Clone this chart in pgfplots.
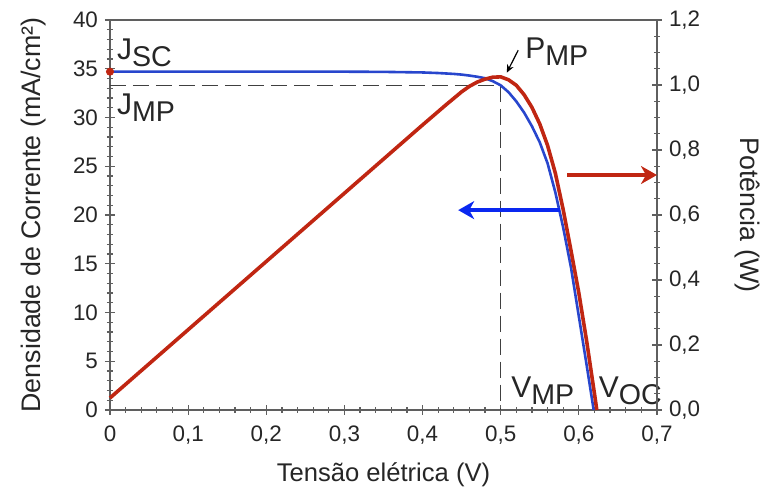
\documentclass[border=0pt]{standalone}
\usepackage{fontspec}
\setmainfont{Liberation Sans}
\usepackage{pgfplots}
\usepackage{pgfplotstable}
\pgfplotsset{compat=1.18}
\usetikzlibrary{arrows.meta}
\definecolor{jblue}{RGB}{40,70,205}
\definecolor{pred}{RGB}{192,38,18}
\definecolor{arrblue}{RGB}{10,40,240}
\definecolor{axgray}{RGB}{95,95,95}

\pgfplotstableread{
V J
0 34.7
0.1 34.7
0.2 34.7
0.3 34.7
0.35 34.68
0.40 34.62
0.42 34.56
0.44 34.47
0.45 34.40
0.46 34.30
0.47 34.18
0.48 34.03
0.49 33.72
0.50 33.3
0.51 32.6
0.52 31.65
0.53 30.5
0.54 29.1
0.55 27.45
0.56 25.3
0.57 22.3
0.58 18.7
0.59 14.6
0.60 9.6
0.61 4.6
0.619 0
}\jvdata

\pgfplotstableread{
V P
0 0.037
0.1 0.247
0.2 0.457
0.3 0.667
0.4 0.877
0.43 0.939
0.45 0.979
0.46 0.996
0.47 1.009
0.48 1.018
0.49 1.024
0.50 1.025
0.51 1.016
0.52 0.999
0.53 0.970
0.54 0.931
0.55 0.880
0.56 0.814
0.57 0.728
0.58 0.616
0.59 0.490
0.60 0.360
0.61 0.212
0.62 0.050
0.623 0
}\pvdata

\begin{document}
\begin{tikzpicture}
\pgfplotsset{
  base/.style={
    scale only axis, width=273.5pt, height=195pt,
    xmin=0, xmax=0.7, clip=false,
    axis line style={axgray, line width=0.8pt},
    every tick/.style={axgray, line width=0.6pt},
    /pgf/number format/assume math mode=true,
    tick label style={font=\fontsize{11.2}{13}\selectfont, text=black!85},
    label style={font=\fontsize{12.8}{15}\selectfont, text=black!85},
    major tick length=5pt, minor tick length=3pt,
    tick align=center,
  }
}
\begin{axis}[base, name=main,
  ymin=0, ymax=40,
  xtick={0,0.1,0.2,0.3,0.4,0.5,0.6,0.7},
  xticklabels={0,{0,1},{0,2},{0,3},{0,4},{0,5},{0,6},{0,7}},
  ytick={0,5,10,15,20,25,30,35,40},
  minor x tick num=4, minor y tick num=4,
  xtick pos=bottom, ytick pos=left,
  xticklabel style={yshift=-2pt},
  xlabel={Tensão elétrica (V)},
  ylabel={Densidade de Corrente (mA/cm²)},
  xlabel style={at={(axis description cs:0.5,-0.165)}, anchor=center},
  ylabel style={at={(axis description cs:-0.140,0.5)}, anchor=center, font=\fontsize{13.4}{15}\selectfont},
]
\addplot[black!75, line width=0.6pt, dash pattern=on 8pt off 3.5pt] coordinates {(0,33.3) (0.5,33.3) (0.5,0)};
\addplot[jblue, line width=1.3pt, line join=round] table[x=V, y=J] {\jvdata};
\addplot[only marks, mark=*, mark size=1.8pt, pred] coordinates {(0,34.7)};
\draw[arrblue, line width=2.2pt, -{Stealth[length=8pt, width=9pt, inset=2.5pt]}] (axis cs:0.576,20.5) -- (axis cs:0.4456,20.5);
\draw[black, line width=0.6pt, -{Stealth[length=4pt, width=3.5pt]}] (axis cs:0.5224,36.9) -- (axis cs:0.5078,34.6);
\node[anchor=base west, inner sep=0pt, text=black!85] at (axis cs:0.0086,36.0) {\fontsize{15}{17}\selectfont J\raisebox{-3.5pt}{\fontsize{14.3}{16}\selectfont SC}};
\node[anchor=base west, inner sep=0pt, text=black!85] at (axis cs:0.0086,30.26) {\fontsize{15}{17}\selectfont J\raisebox{-3.5pt}{\fontsize{14.3}{16}\selectfont MP}};
\node[anchor=base west, inner sep=0pt, text=black!85] at (axis cs:0.531,36.1) {\fontsize{15}{17}\selectfont P\raisebox{-3.5pt}{\fontsize{14.3}{16}\selectfont MP}};
\node[anchor=base west, inner sep=0pt, text=black!85] at (axis cs:0.513,1.3) {\fontsize{15}{17}\selectfont V\raisebox{-3.5pt}{\fontsize{14.3}{16}\selectfont MP}};
\node[anchor=base west, inner sep=0pt, text=black!85] at (axis cs:0.625,1.3) {\fontsize{15}{17}\selectfont V\raisebox{-3.5pt}{\fontsize{14.3}{16}\selectfont OC}};
\end{axis}
\begin{axis}[base,
  ymin=0, ymax=1.2,
  axis x line=none, axis y line*=right,
  ytick={0,0.2,0.4,0.6,0.8,1.0,1.2},
  minor y tick num=3,
  yticklabel style={/pgf/number format/.cd, fixed, fixed zerofill, precision=1, use comma},
  ylabel={Potência (W)},
  ylabel style={at={(axis description cs:1.166,0.5)}, anchor=center, rotate=180, font=\fontsize{13.4}{15}\selectfont},
]
\addplot[pred, line width=1.8pt, line join=round] table[x=V, y=P] {\pvdata};
\draw[pred, line width=2.2pt, -{Stealth[length=8pt, width=9pt, inset=2.5pt]}] (axis cs:0.585,0.723) -- (axis cs:0.70,0.723);
\end{axis}
\pgfresetboundingbox
\path[use as bounding box] (main.south west) ++(-55pt,-41pt) rectangle ++(384pt,246pt);
\end{tikzpicture}
\end{document}
